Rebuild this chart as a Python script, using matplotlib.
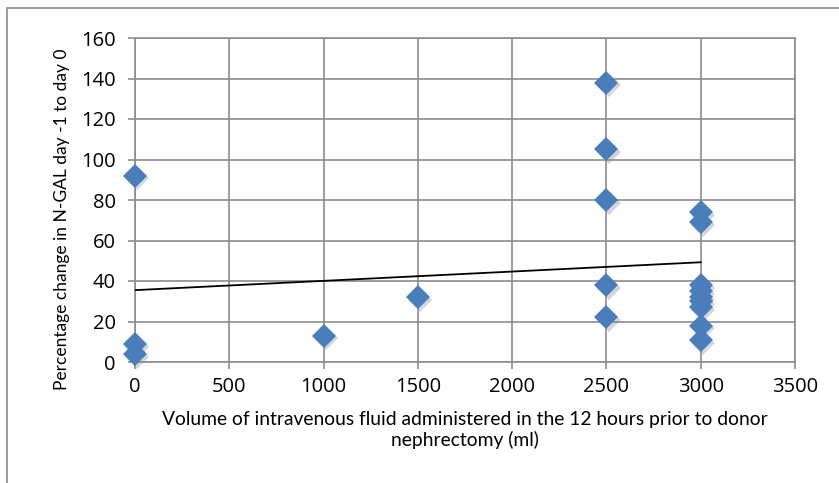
import matplotlib
matplotlib.use('Agg')
import matplotlib.pyplot as plt
import matplotlib.transforms as mtransforms
from matplotlib.patches import Rectangle
import numpy as np

# data
volume_ml = [0, 0, 0, 1000, 1500,
             2500, 2500, 2500, 2500, 2500,
             3000, 3000, 3000, 3000, 3000, 3000, 3000, 3000, 3000]
ngal_change = [92, 9, 4, 13, 32,
               138, 105, 80, 38, 22,
               74, 69, 38, 35, 32, 30, 27, 18, 11]
x_ticks = [0, 500, 1000, 1500, 2000, 2500, 3000, 3500]
y_ticks = [0, 20, 40, 60, 80, 100, 120, 140, 160]

plt.rcParams['font.family'] = ['Lato', 'DejaVu Sans']

fig = plt.figure(figsize=(8.39, 4.83), dpi=100)
W, H = 839.0, 483.0
ax = fig.add_axes([135 / W, 1 - 362 / H, (795 - 135) / W, (362 - 38) / H])

# outer chart frame
fig.patches.append(Rectangle((7 / W, -0.1), 1.2, 1 - 8 / H + 0.1,
                             transform=fig.transFigure, fill=False,
                             edgecolor='#8c8c8c', linewidth=1.2))

x = np.array(volume_ml, dtype=float)
y = np.array(ngal_change, dtype=float)

# shadow under markers
shadow = mtransforms.offset_copy(ax.transData, fig=fig, x=1.5, y=-2, units='points')
ax.plot(x, y, linestyle='none', marker='D', markersize=12, color='#7f8a99',
        alpha=0.35, transform=shadow, zorder=3, markeredgewidth=0, clip_on=False)
ax.plot(x, y, linestyle='none', marker='D', markersize=12, color='#4a7ebb',
        markeredgewidth=0, zorder=4, clip_on=False)

# linear trend line
slope, intercept = np.polyfit(x, y, 1)
xt = np.array([0, 3000])
ax.plot(xt, slope * xt + intercept, color='black', linewidth=1.3, zorder=5)

ax.set_xlim(0, 3500)
ax.set_ylim(0, 160)
ax.set_xticks(x_ticks)
ax.set_yticks(y_ticks)
ax.grid(True, color='#8c8c8c', linewidth=1.2)
ax.set_axisbelow(True)
for s in ax.spines.values():
    s.set_color('#8c8c8c')
    s.set_linewidth(1.2)
ax.tick_params(colors='#8c8c8c', length=5, width=1.2, labelcolor='black')
tick_font = {'family': ['Open Sans', 'DejaVu Sans'], 'size': 14.5}
ax.set_xticklabels([str(v) for v in x_ticks], fontdict=tick_font)
ax.set_yticklabels([str(v) for v in y_ticks], fontdict=tick_font)
ax.tick_params(axis='x', pad=6)
ax.tick_params(axis='y', pad=9)

ax.set_ylabel('Percentage change in N-GAL day -1 to day 0', fontsize=12.5)
ax.yaxis.set_label_coords(-0.098, 0.441)
ax.set_xlabel('Volume of intravenous fluid administered in the 12 hours prior to donor\nnephrectomy (ml)',
              fontsize=13.9, labelpad=10, linespacing=1.2)

fig.savefig('out.png', dpi=100)
